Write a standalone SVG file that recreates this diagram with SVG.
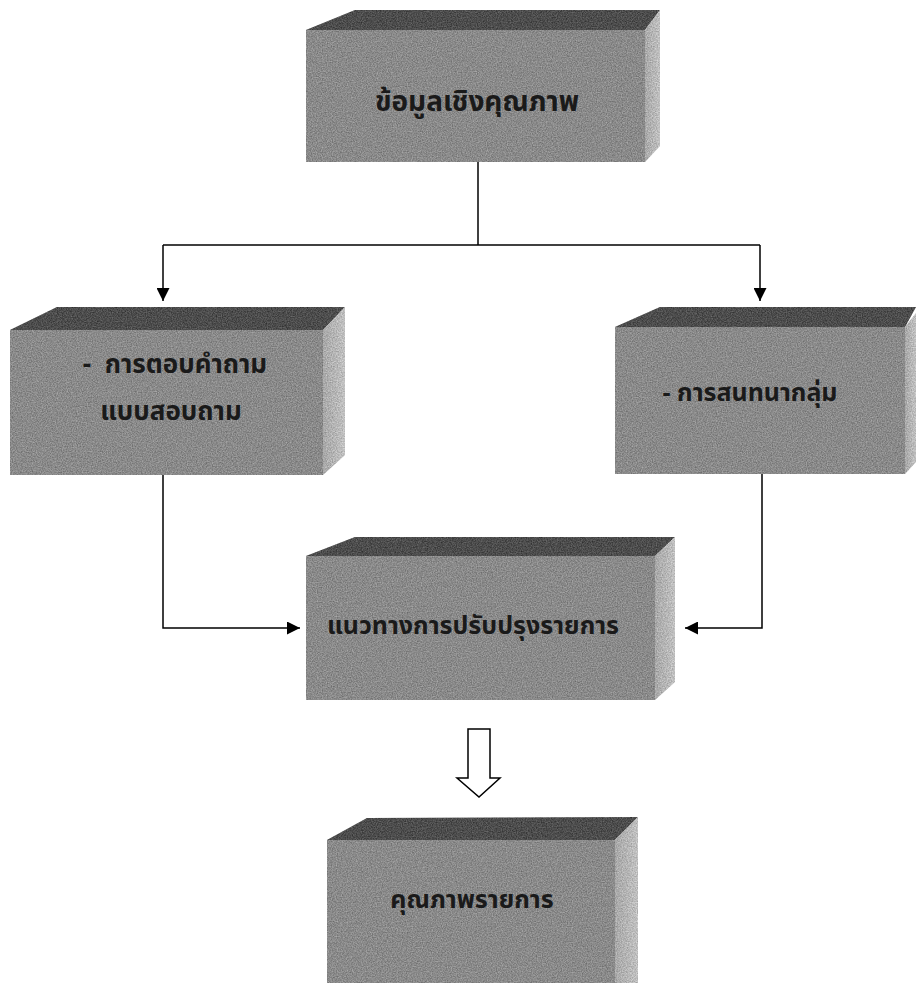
<svg xmlns="http://www.w3.org/2000/svg" width="916" height="983" viewBox="0 0 916 983">
<defs>
<style>
.front{fill:#8e8e8e}
.top{fill:#3a3a3a}
.side{fill:url(#sideGrad)}
.lbl{font-family:"Noto Sans Thai","Noto Sans","DejaVu Sans",sans-serif;font-size:25px;font-weight:bold;fill:#1a1a1a;text-anchor:middle;dominant-baseline:central}
.conn{fill:none;stroke:#000;stroke-width:1.5}
</style>
<linearGradient id="sideGrad" x1="0" y1="0" x2="1" y2="0">
<stop offset="0" stop-color="#b8b8b8"/>
<stop offset="1" stop-color="#dadada"/>
</linearGradient>
<filter id="grain" x="0" y="0" width="1" height="1" color-interpolation-filters="sRGB">
<feTurbulence type="fractalNoise" baseFrequency="0.8" numOctaves="2" seed="3" result="n"/>
<feColorMatrix in="n" type="matrix" values="0 0 0 1.2 -0.1  0 0 0 1.2 -0.1  0 0 0 1.2 -0.1  0 0 0 0 0.28" result="g"/>
<feComposite in="g" in2="SourceAlpha" operator="in" result="gi"/>
<feMerge><feMergeNode in="SourceGraphic"/><feMergeNode in="gi"/></feMerge>
</filter>
<marker id="ah" viewBox="0 0 12 12" refX="12" refY="6" markerWidth="13" markerHeight="13" markerUnits="userSpaceOnUse" orient="auto">
<path d="M0,0 L12,6 L0,12 z" fill="#000"/>
</marker>
</defs>
<rect width="916" height="983" fill="#fff"/>

<g id="connectors">
<path class="conn" d="M478,162 V245"/>
<path class="conn" d="M163,245 H760"/>
<path class="conn" d="M163,245 V301" marker-end="url(#ah)"/>
<path class="conn" d="M760,245 V301" marker-end="url(#ah)"/>
<path class="conn" d="M163,475 V628 H300" marker-end="url(#ah)"/>
<path class="conn" d="M762,474 V628 H685" marker-end="url(#ah)"/>
<path d="M468,729 H490 V778 H500 L479,797 L457,778 H468 Z" fill="#fff" stroke="#000" stroke-width="1.5"/>
</g>

<g id="node-qualitative">
<g filter="url(#grain)">
<polygon class="top" points="306,30 355,10 660,10 645,30"/>
<polygon class="side" points="645,30 660,10 660,146 645,162"/>
<rect class="front" x="306" y="30" width="339" height="132"/>
</g>
<text class="lbl" x="477" y="102" style="font-size:28px">ข้อมูลเชิงคุณภาพ</text>
</g>

<g id="node-questionnaire">
<g filter="url(#grain)">
<polygon class="top" points="10,330 57,307 345,307 323,330"/>
<polygon class="side" points="323,330 345,307 345,455 323,475"/>
<rect class="front" x="10" y="330" width="313" height="145"/>
</g>
<text class="lbl" x="175" y="365" xml:space="preserve" style="font-size:26px">-  การตอบคำถาม</text>
<text class="lbl" x="171" y="412" style="font-size:26px">แบบสอบถาม</text>
</g>

<g id="node-focusgroup">
<g filter="url(#grain)">
<polygon class="top" points="615,327 660,307 916,307 905,327"/>
<polygon class="side" points="905,327 916,313 916,462 905,474"/>
<rect class="front" x="615" y="327" width="290" height="147"/>
</g>
<text class="lbl" x="750" y="393">- การสนทนากลุ่ม</text>
</g>

<g id="node-guidelines">
<g filter="url(#grain)">
<polygon class="top" points="306,556 355,537 675,537 655,556"/>
<polygon class="side" points="655,556 675,537 675,682 655,700"/>
<rect class="front" x="306" y="556" width="349" height="144"/>
</g>
<text class="lbl" x="473" y="626">แนวทางการปรับปรุงรายการ</text>
</g>

<g id="node-quality">
<g filter="url(#grain)">
<polygon class="top" points="327,840 367,818 638,817 615,840"/>
<polygon class="side" points="615,840 638,817 638,983 615,983"/>
<rect class="front" x="327" y="840" width="288" height="143"/>
</g>
<text class="lbl" x="472" y="900">คุณภาพรายการ</text>
</g>
</svg>
